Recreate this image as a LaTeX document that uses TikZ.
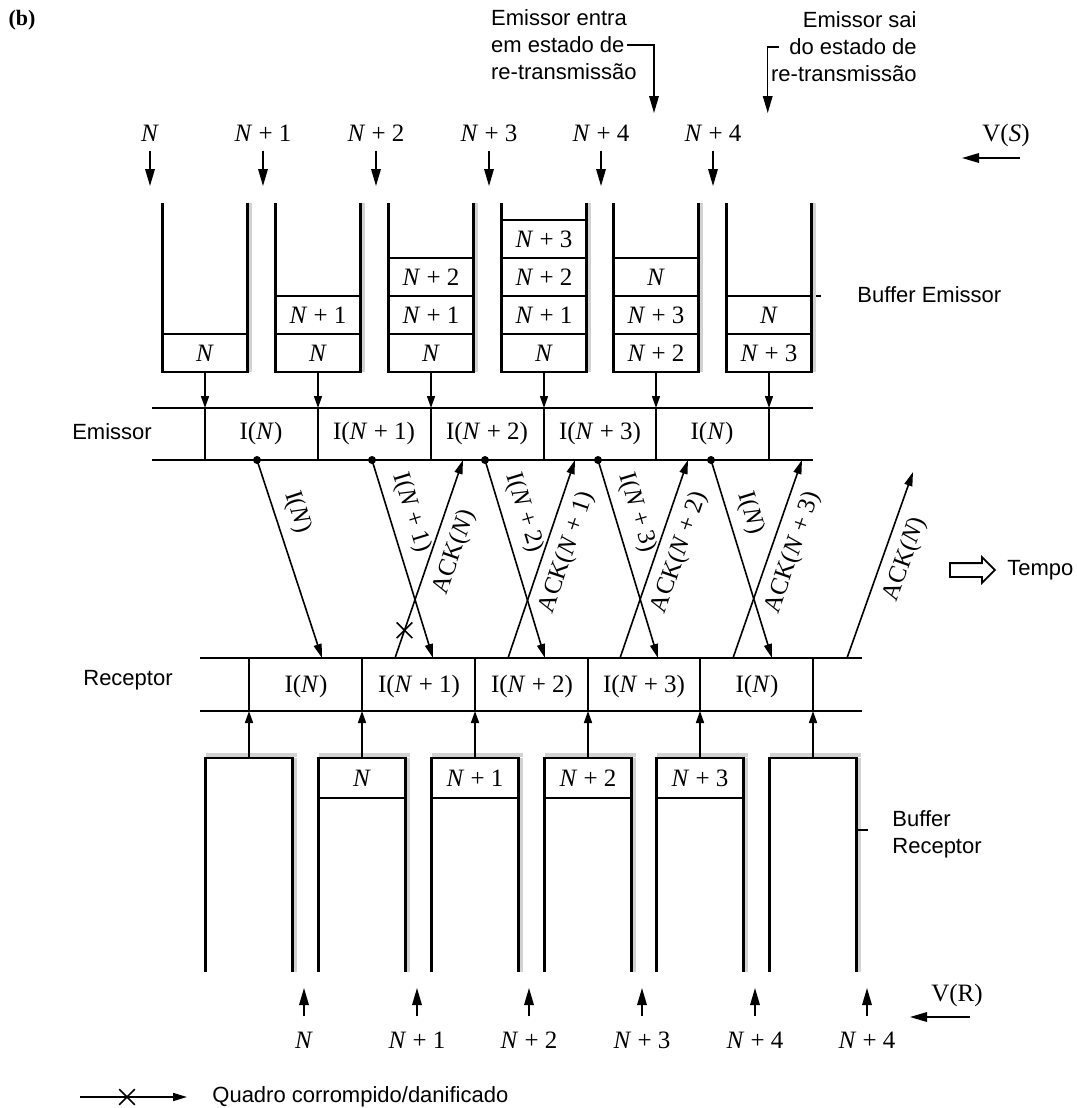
\documentclass[tikz,border=0pt]{standalone}
\usepackage{fontspec}
\setmainfont{Liberation Serif}
\newfontfamily\sansf{Liberation Sans}
\usetikzlibrary{arrows.meta, positioning, shapes.arrows, shapes.misc}
\newcommand{\Nv}{\textit{N}}
\newcommand{\Np}[1]{\textit{N} + #1}

\begin{document}
\begin{tikzpicture}[
    x=0.5pt, y=-0.5pt,
    lbl/.style={font=\fontsize{12.5}{15}\selectfont, inner sep=0pt},
    txt/.style={font=\sansf\fontsize{11}{13.5}\selectfont, inner sep=0pt},
    sbuf/.style={minimum width=42.5pt, minimum height=84.5pt, inner sep=0pt, outer sep=0pt},
    rbuf/.style={minimum width=43.5pt, minimum height=107pt, inner sep=0pt, outer sep=0pt},
    cell/.style={draw, line width=0.8pt, minimum width=42.5pt, minimum height=19pt, inner sep=0pt, outer sep=0pt, font=\fontsize{12.5}{15}\selectfont},
    rcell/.style={cell, minimum width=43.5pt, minimum height=20pt},
    wall/.style={line width=1.3pt},
    hatch/.style={fill=gray!35},
    band/.style={line width=1.1pt},
    feed/.style={-{Triangle[length=6pt, width=4pt]}, line width=0.8pt},
    ptr/.style={-{Triangle[length=8.5pt, width=4.8pt]}, line width=0.7pt},
    msg/.style={-{Triangle[length=7pt, width=4pt]}, line width=0.8pt},
    xmark/.style={draw, cross out, line width=0.8pt, minimum size=7pt, inner sep=0pt}
]
    \useasboundingbox (0,0) rectangle (1076,1108);

    \node[font=\bfseries\fontsize{11}{13}\selectfont] (fig) at (22,20) {(b)};

    % annotations on top
    \node[txt, align=left, anchor=east] (ent) at (637,45) {Emissor entra\\em estado de\\re-transmissão};
    \node[txt, align=right, anchor=east] (sai) at (917,47) {Emissor sai\\do estado de\\re-transmissão};
    \coordinate (rt1) at (654,113);
    \coordinate (rt2) at ([xshift=-1.5pt]sai.west |- rt1);
    \draw[ptr] ([xshift=-5pt]ent.east) -| (rt1);
    \draw[ptr] ([xshift=4pt]sai.west) -| (rt2);

    % V(S) pointers
    \node[lbl] (vs1) at (150,133) {\Nv};
    \node[lbl] (vs2) at (263,133) {\Np{1}};
    \node[lbl] (vs3) at (376,133) {\Np{2}};
    \node[lbl] (vs4) at (489,133) {\Np{3}};
    \node[lbl] (vs5) at (601,133) {\Np{4}};
    \node[lbl] (vs6) at (713,133) {\Np{4}};
    \node[lbl] (vs) at (1006,135) {V(\textit{S})};
    \coordinate (vsa) at (1020,158);
    \coordinate (vsb) at (962,158);
    \draw[ptr] (vsa) -- (vsb);

    % sender buffers
    \node[sbuf] (sb1) at (205,287.5) {};
    \node[sbuf] (sb2) at (318,287.5) {};
    \node[sbuf] (sb3) at (431,287.5) {};
    \node[sbuf] (sb4) at (544,287.5) {};
    \node[sbuf] (sb5) at (656,287.5) {};
    \node[sbuf] (sb6) at (769,287.5) {};

    \node[cell, anchor=south] (s1a) at (sb1.south) {\Nv};
    \node[cell, anchor=south] (s2a) at (sb2.south) {\Nv};
    \node[cell, above=0pt of s2a] (s2b) {\Np{1}};
    \node[cell, anchor=south] (s3a) at (sb3.south) {\Nv};
    \node[cell, above=0pt of s3a] (s3b) {\Np{1}};
    \node[cell, above=0pt of s3b] (s3c) {\Np{2}};
    \node[cell, anchor=south] (s4a) at (sb4.south) {\Nv};
    \node[cell, above=0pt of s4a] (s4b) {\Np{1}};
    \node[cell, above=0pt of s4b] (s4c) {\Np{2}};
    \node[cell, above=0pt of s4c] (s4d) {\Np{3}};
    \node[cell, anchor=south] (s5a) at (sb5.south) {\Np{2}};
    \node[cell, above=0pt of s5a] (s5b) {\Np{3}};
    \node[cell, above=0pt of s5b] (s5c) {\Nv};
    \node[cell, anchor=south] (s6a) at (sb6.south) {\Np{3}};
    \node[cell, above=0pt of s6a] (s6b) {\Nv};

    \node[txt, anchor=west] (sbl) at (857,295) {Buffer Emissor};
    \draw[wall] ([yshift=-4.25pt]sb6.east) -- ++(4.5pt,0);

    % sender line
    \coordinate (etop) at (152,408);
    \coordinate (ebot) at (152,460);
    \draw[band] (etop) -- (813,408) (ebot) -- (813,460);
    \node[txt] (em) at (112,432) {Emissor};

    \foreach \b in {sb1,sb2,sb3,sb4,sb5,sb6}{
        \fill[hatch] ([xshift=0.7pt]\b.north east) rectangle ([xshift=2.4pt]\b.south east);
        \draw[wall] (\b.north west) |- (\b.south east) -- (\b.north east);
        \draw[line width=1.7pt] (\b.south east) -- (\b.north east);
        \draw[feed] (\b.south) -- (\b.south |- etop);
        \draw[line width=0.9pt] (\b.south |- etop) -- (\b.south |- ebot);
    }

    \node[lbl] (ei1) at (261,433) {I(\Nv)};
    \node[lbl] (ei2) at (374,433) {I(\Np{1})};
    \node[lbl] (ei3) at (487,433) {I(\Np{2})};
    \node[lbl] (ei4) at (600,433) {I(\Np{3})};
    \node[lbl] (ei5) at (712,433) {I(\Nv)};

    % receiver line
    \coordinate (rtop) at (200,658);
    \coordinate (rbot) at (200,711);
    \draw[band] (rtop) -- (862,658) (rbot) -- (862,711);
    \node[txt] (re) at (128,680) {Receptor};

    \node[lbl] (ri1) at (306,686) {I(\Nv)};
    \node[lbl] (ri2) at (419,686) {I(\Np{1})};
    \node[lbl] (ri3) at (532,686) {I(\Np{2})};
    \node[lbl] (ri4) at (644,686) {I(\Np{3})};
    \node[lbl] (ri5) at (757,686) {I(\Nv)};

    % frames
    \coordinate (e1) at (257,460); \coordinate (r1) at (322,658);
    \coordinate (e2) at (372,460); \coordinate (r2) at (433,658);
    \coordinate (e3) at (485,460); \coordinate (r3) at (545,658);
    \coordinate (e4) at (598,460); \coordinate (r4) at (658,658);
    \coordinate (e5) at (711,460); \coordinate (r5) at (772,658);
    \fill (e1) circle (2pt) (e2) circle (2pt) (e3) circle (2pt) (e4) circle (2pt) (e5) circle (2pt);
    \draw[msg] (e1) -- node[lbl, sloped, above=5pt, pos=0.3] {I(\Nv)} (r1);
    \draw[msg] (e2) -- node[lbl, sloped, above=5pt, pos=0.3] {I(\Np{1})} (r2);
    \draw[msg] (e3) -- node[lbl, sloped, above=5pt, pos=0.3] {I(\Np{2})} (r3);
    \draw[msg] (e4) -- node[lbl, sloped, above=5pt, pos=0.3] {I(\Np{3})} (r4);
    \draw[msg] (e5) -- node[lbl, sloped, above=5pt, pos=0.3] {I(\Nv)} (r5);

    % acks
    \coordinate (a1) at (395,658); \coordinate (b1) at (463,460);
    \coordinate (a2) at (508,658); \coordinate (b2) at (575,460);
    \coordinate (a3) at (620,658); \coordinate (b3) at (688,460);
    \coordinate (a4) at (733,658); \coordinate (b4) at (802,460);
    \coordinate (a5) at (847,658); \coordinate (b5) at (913,472);
    \draw[msg] (a1) -- node[xmark, pos=0.14] (x1) {} node[lbl, sloped, below=5pt, pos=0.57] {ACK(\Nv)} (b1);
    \draw[msg] (a2) -- node[lbl, sloped, below=5pt, pos=0.57] {ACK(\Np{1})} (b2);
    \draw[msg] (a3) -- node[lbl, sloped, below=5pt, pos=0.57] {ACK(\Np{2})} (b3);
    \draw[msg] (a4) -- node[lbl, sloped, below=5pt, pos=0.57] {ACK(\Np{3})} (b4);
    \draw[msg] (a5) -- node[lbl, sloped, below=5pt, pos=0.57] {ACK(\Nv)} (b5);

    % time
    \node[single arrow, draw, line width=0.9pt, minimum height=22.5pt, inner sep=3pt, single arrow head extend=3pt] (tarr) at (969,570) {};
    \node[txt, anchor=west] (tempo) at (1007,570) {Tempo};

    % receiver buffers
    \node[rbuf] (rb1) at (249,865) {};
    \node[rbuf] (rb2) at (362,865) {};
    \node[rbuf] (rb3) at (475,865) {};
    \node[rbuf] (rb4) at (588,865) {};
    \node[rbuf] (rb5) at (700,865) {};
    \node[rbuf] (rb6) at (813,865) {};

    \node[rcell, anchor=north] (r2a) at (rb2.north) {\Nv};
    \node[rcell, anchor=north] (r3a) at (rb3.north) {\Np{1}};
    \node[rcell, anchor=north] (r4a) at (rb4.north) {\Np{2}};
    \node[rcell, anchor=north] (r5a) at (rb5.north) {\Np{3}};

    \foreach \b in {rb1,rb2,rb3,rb4,rb5,rb6}{
        \fill[hatch] ([yshift=0.7pt]\b.north west) rectangle ([xshift=2.4pt, yshift=2.4pt]\b.north east);
        \fill[hatch] ([xshift=0.7pt]\b.north east) rectangle ([xshift=2.4pt]\b.south east);
        \draw[wall] (\b.south west) |- (\b.north east) -- (\b.south east);
        \draw[line width=1.7pt] (\b.north east) -- (\b.south east);
        \draw[feed] (\b.north) -- (\b.north |- rbot);
        \draw[line width=0.9pt] (\b.north |- rbot) -- (\b.north |- rtop);
    }

    \node[txt, anchor=west, align=left] (rbl) at (892,834) {Buffer\\Receptor};
    \draw[wall] ([yshift=17.5pt]rb6.east) -- ++(5.5pt,0);

    % V(R) pointers
    \node[lbl] (vr1) at (304,1040) {\Nv};
    \node[lbl] (vr2) at (417,1040) {\Np{1}};
    \node[lbl] (vr3) at (529,1040) {\Np{2}};
    \node[lbl] (vr4) at (642,1040) {\Np{3}};
    \node[lbl] (vr5) at (755,1040) {\Np{4}};
    \node[lbl] (vr6) at (867,1040) {\Np{4}};
    \node[lbl] (vr) at (957,995) {V(R)};
    \coordinate (vra) at (970,1017);
    \coordinate (vrb) at (910,1017);
    \draw[ptr] (vra) -- (vrb);

    \draw[ptr, shorten <=4.5pt, shorten >=8.5pt] (vs1.south) -- (vs1.south |- sb1.north);
    \draw[ptr, shorten <=4.5pt, shorten >=8.5pt] (vs2.south) -- (vs2.south |- sb1.north);
    \draw[ptr, shorten <=4.5pt, shorten >=8.5pt] (vs3.south) -- (vs3.south |- sb1.north);
    \draw[ptr, shorten <=4.5pt, shorten >=8.5pt] (vs4.south) -- (vs4.south |- sb1.north);
    \draw[ptr, shorten <=4.5pt, shorten >=8.5pt] (vs5.south) -- (vs5.south |- sb1.north);
    \draw[ptr, shorten <=4.5pt, shorten >=8.5pt] (vs6.south) -- (vs6.south |- sb1.north);
    \draw[ptr, shorten <=7.5pt, shorten >=8pt] (vr1.north) -- (vr1.north |- rb1.south);
    \draw[ptr, shorten <=7.5pt, shorten >=8pt] (vr2.north) -- (vr2.north |- rb1.south);
    \draw[ptr, shorten <=7.5pt, shorten >=8pt] (vr3.north) -- (vr3.north |- rb1.south);
    \draw[ptr, shorten <=7.5pt, shorten >=8pt] (vr4.north) -- (vr4.north |- rb1.south);
    \draw[ptr, shorten <=7.5pt, shorten >=8pt] (vr5.north) -- (vr5.north |- rb1.south);
    \draw[ptr, shorten <=7.5pt, shorten >=8pt] (vr6.north) -- (vr6.north |- rb1.south);

    % legend
    \coordinate (lg1) at (80,1097);
    \node[txt, anchor=west] (leg) at (212,1097) {Quadro corrompido/danificado};
    \draw[msg] (lg1) -- node[xmark, pos=0.44] (lgx) {} ([xshift=-12.5pt]leg.west);

\end{tikzpicture}
\end{document}
